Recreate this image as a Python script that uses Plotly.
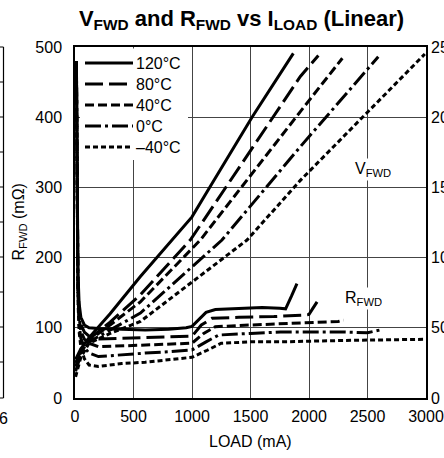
import plotly.graph_objects as go

# ---------------- data ----------------
temps = ["120°C", "80°C", "40°C", "0°C", "–40°C"]
dashes = ["solid", "18px,6px", "9px,4px", "16px,4px,3px,4px", "5px,3px"]

# R_FWD (mOhm) vs load current (mA)
r_x_120 = [12, 15, 20, 25, 35, 50, 80, 120, 200, 400, 600, 800, 950, 1000, 1060, 1120, 1200, 1400, 1600, 1750, 1800, 1850, 1897]
r_y_120 = [480, 400, 260, 180, 135, 115, 104, 100, 99, 98, 97, 98, 100, 102, 112, 122, 126, 128, 129, 128, 127, 145, 163]

r_x_80 = [12, 15, 20, 25, 35, 50, 80, 120, 200, 400, 600, 800, 1000, 1080, 1171, 1400, 1700, 1950, 2000, 2030, 2069]
r_y_80 = [480, 395, 250, 170, 125, 105, 94, 88, 84, 85, 86, 87, 88, 104, 113.5, 115, 116, 118, 119, 127, 137]

r_x_40 = [12, 15, 20, 25, 35, 50, 80, 120, 200, 400, 600, 800, 1000, 1100, 1199, 1500, 1757, 2000, 2250, 2296]
r_y_40 = [480, 390, 240, 160, 115, 95, 84, 78, 73, 74, 75, 76, 78, 92, 101.6, 104, 106, 108, 109, 111]

r_x_0 = [12, 15, 20, 25, 35, 50, 80, 120, 200, 400, 600, 800, 1000, 1120, 1228, 1500, 1757, 2300, 2500, 2610]
r_y_0 = [480, 385, 230, 150, 105, 85, 72, 64, 59, 62, 64, 66, 68.5, 80, 89.7, 92, 94, 94, 93, 97]

r_x_m40 = [12, 15, 20, 25, 35, 50, 80, 120, 200, 300, 400, 600, 800, 1000, 1130, 1250, 1500, 1757, 2300, 2980]
r_y_m40 = [470, 380, 220, 140, 95, 72, 56, 47, 45, 47, 49, 51, 54, 58, 68, 78, 80, 80, 82, 83.6]

# V_FWD (mV) vs load current (mA)
v_x_120 = [5, 50, 120, 300, 559, 830, 1000, 1148, 1513, 1866]
v_y_120 = [27.5, 35, 43, 60, 86.5, 112.5, 129, 149.5, 200, 245.5]

v_x_80 = [5, 50, 120, 300, 559, 985, 1200, 1926, 2080]
v_y_80 = [25, 33.5, 42, 54, 73.5, 112.5, 139, 229, 244]

v_x_40 = [5, 50, 120, 300, 559, 1071, 1926, 2285]
v_y_40 = [22.5, 32.5, 41, 52, 68.5, 112.5, 204, 242]

v_x_0 = [5, 50, 120, 300, 559, 1256, 1926, 2592]
v_y_0 = [19, 31, 40, 48.5, 60.5, 112.5, 179, 243]

v_x_m40 = [5, 50, 120, 300, 559, 1470, 1926, 2990]
v_y_m40 = [15, 29, 39, 46, 54.5, 112.5, 155, 245]

x_ticks = [0, 500, 1000, 1500, 2000, 2500, 3000]
r_ticks = [0, 100, 200, 300, 400, 500]
v_ticks = [0, 50, 100, 150, 200, 250]

r_sets = [(r_x_120, r_y_120), (r_x_80, r_y_80), (r_x_40, r_y_40), (r_x_0, r_y_0), (r_x_m40, r_y_m40)]
v_sets = [(v_x_120, v_y_120), (v_x_80, v_y_80), (v_x_40, v_y_40), (v_x_0, v_y_0), (v_x_m40, v_y_m40)]

FONT = "Liberation Sans, Arial, sans-serif"
FS = 16
LW = 3

fig = go.Figure()
for (xs, ys), d, t in zip(r_sets, dashes, temps):
    fig.add_trace(go.Scatter(x=xs, y=ys, mode="lines", name=t, showlegend=False,
                             line=dict(color="black", width=LW, dash=d), yaxis="y"))
for (xs, ys), d, t in zip(v_sets, dashes, temps):
    fig.add_trace(go.Scatter(x=xs, y=ys, mode="lines", name=t, showlegend=False,
                             line=dict(color="black", width=LW, dash=d), yaxis="y2"))

# pixel helpers for decorations (plot area 75..426 x, 47..398 y)
L, T, W, H = 75, 47, 351, 351
def px(xp):
    return (xp - L) / W
def py(yp):
    return (T + H - yp) / H

shapes = []
# legend background
shapes.append(dict(type="rect", xref="paper", yref="paper", x0=px(80), x1=px(188), y0=py(160), y1=py(48.5),
                   fillcolor="white", line=dict(width=0), layer="above"))
rows = [63, 84, 105, 126, 147]
annotations = []
for r, d, t in zip(rows, dashes, temps):
    shapes.append(dict(type="line", xref="paper", yref="paper", x0=px(85), x1=px(133), y0=py(r), y1=py(r),
                       line=dict(color="black", width=LW, dash=d), layer="above"))
    annotations.append(dict(text=t, xref="paper", yref="paper", x=px(134), y=py(r), xanchor="left",
                            yanchor="middle", showarrow=False, font=dict(family=FONT, size=FS, color="black")))

# neighbouring chart fragment at left edge
shapes.append(dict(type="line", xref="paper", yref="paper", x0=px(3.5), x1=px(3.5), y0=py(398), y1=py(47),
                   line=dict(color="black", width=1.2)))
for yy in [47, 82, 117, 152, 187, 222, 257, 292, 327, 362, 398]:
    shapes.append(dict(type="line", xref="paper", yref="paper", x0=px(-1), x1=px(3.5), y0=py(yy), y1=py(yy),
                       line=dict(color="black", width=1)))
annotations.append(dict(text="6", xref="paper", yref="paper", x=px(3.5), y=py(418), xanchor="center",
                        yanchor="middle", showarrow=False, font=dict(family=FONT, size=FS, color="black")))

# curve labels
annotations.append(dict(text="V<sub>FWD</sub>", x=2543, y=325, xref="x", yref="y", showarrow=False,
                        xanchor="center", yanchor="middle",
                        bgcolor="white", font=dict(family=FONT, size=FS, color="black")))
annotations.append(dict(text="R<sub>FWD</sub>", x=2464, y=142, xref="x", yref="y", showarrow=False,
                        xanchor="center", yanchor="middle",
                        bgcolor="white", font=dict(family=FONT, size=FS, color="black")))
# axis titles
annotations.append(dict(text="R<sub>FWD</sub> (mΩ)", xref="paper", yref="paper", x=px(19), y=0.5,
                        xanchor="center", yanchor="middle",
                        textangle=-90, showarrow=False, font=dict(family=FONT, size=FS, color="black")))
annotations.append(dict(text="LOAD (mA)", xref="paper", yref="paper", x=0.5, y=py(441),
                        xanchor="center", yanchor="middle",
                        showarrow=False, font=dict(family=FONT, size=FS, color="black")))

axis_common = dict(showline=True, mirror=True, linecolor="black", linewidth=1.5, zeroline=False,
                   ticks="", automargin=False, tickfont=dict(family=FONT, size=FS, color="black"))

fig.update_layout(
    width=444, height=458,
    margin=dict(l=L, r=444 - L - W, t=T, b=458 - T - H, autoexpand=False),
    paper_bgcolor="white", plot_bgcolor="white",
    showlegend=False,
    title=dict(text="<b>V<sub>FWD</sub> and R<sub>FWD</sub> vs I<sub>LOAD</sub> (Linear)</b>",
               x=241.5 / 444, xref="container", y=1 - 18 / 458, yref="container",
               yanchor="middle", xanchor="center",
               font=dict(family=FONT, size=22, color="black")),
    xaxis=dict(range=[0, 3000], tickvals=x_ticks, showgrid=True, gridcolor="#444", gridwidth=1,
               ticklabelstandoff=3, **axis_common),
    yaxis=dict(range=[0, 500], tickvals=r_ticks, showgrid=True, gridcolor="#444", gridwidth=1,
               ticklabelstandoff=8, **axis_common),
    yaxis2=dict(range=[0, 250], tickvals=v_ticks, overlaying="y", side="right", showgrid=False,
                showline=False, zeroline=False, ticks="", ticklabelstandoff=4, automargin=False,
                tickfont=dict(family=FONT, size=FS, color="black")),
    shapes=shapes,
    annotations=annotations,
)

fig.write_html("out.html", config={"displayModeBar": False},
               post_script="document.body.style.margin='0';")
